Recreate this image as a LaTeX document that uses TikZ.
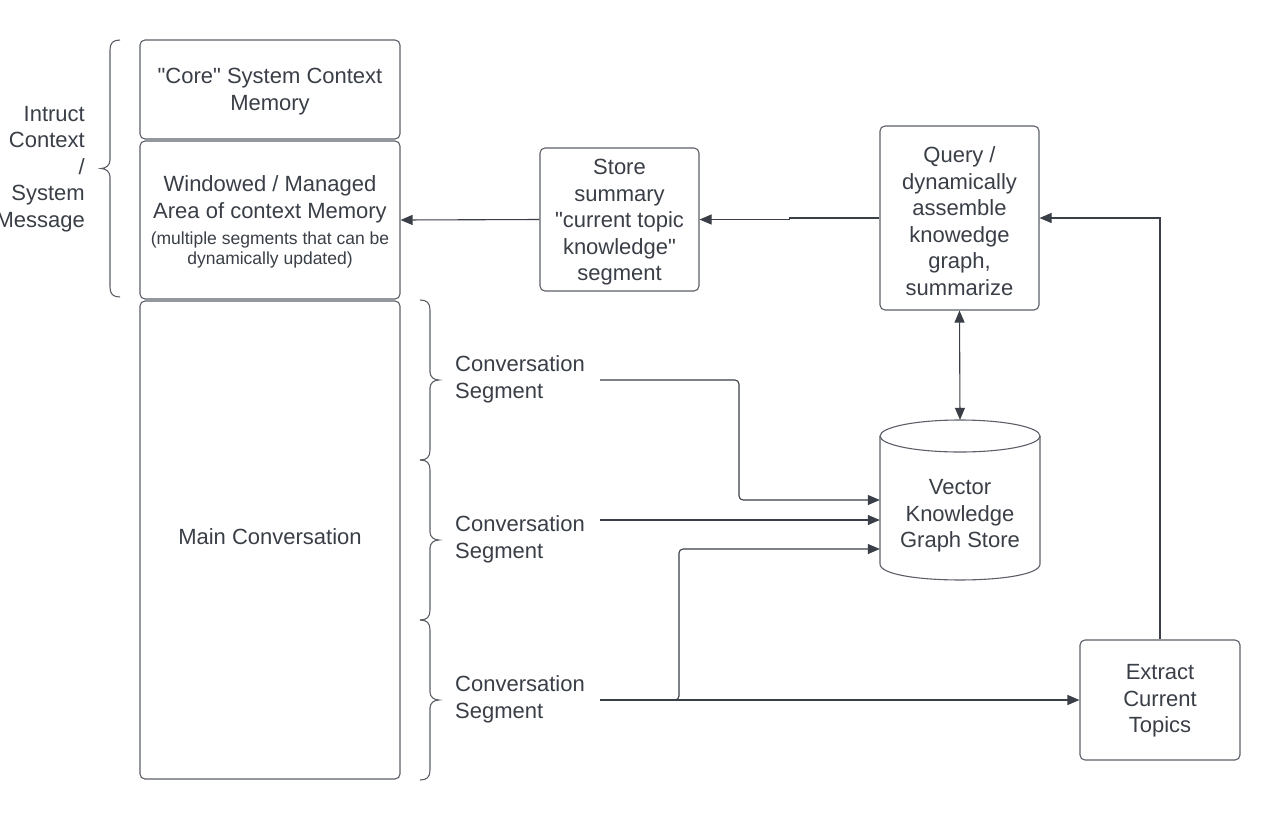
\documentclass[tikz,border=0pt]{standalone}
\usepackage{fontspec}
\setmainfont{Liberation Sans}
\usetikzlibrary{arrows.meta}
\definecolor{ink}{HTML}{3A3F47}
\definecolor{edge}{HTML}{5C6066}
\newcommand{\dq}{\textquotedbl}
\begin{document}
\begin{tikzpicture}[x=1pt,y=-1pt,
  every node/.style={font=\fontsize{22}{26.5}\selectfont, text=ink, align=center, inner sep=0pt},
  box/.style={draw=edge, line width=1.1pt, rounded corners=5pt},
  shp/.style={draw=edge, line width=1.1pt},
  ln/.style={draw=ink, line width=1.1pt},
  arr/.style={ln, -{Triangle[length=12pt,width=10pt]}},
  darr/.style={ln, {Triangle[length=12pt,width=10pt]}-{Triangle[length=12pt,width=10pt]}},
]
\useasboundingbox (0,0) rectangle (1280,820);
\fill[white] (0,0) rectangle (1280,820);

% left column
\node[box, minimum width=260, minimum height=99,
  label={[yshift=-2pt]center:{\dq Core\dq{} System Context\\Memory}}] (core) at (270,89.5) {};
\node[box, minimum width=260, minimum height=158,
  label={[yshift=-2pt]center:{Windowed / Managed\\Area of context Memory\\{\fontsize{17.5}{20}\selectfont (multiple segments that can be}\\[-6.5pt]{\fontsize{17.5}{20}\selectfont dynamically updated)}}}] (win) at (270,220) {};
\node[box, minimum width=260, minimum height=478,
  label={[yshift=3pt]center:{Main Conversation}}] (main) at (270,540) {};

\node[anchor=east, align=right] (ictx) at (85,169) {Intruct\\Context\\/\\System\\Message};

% left brace
\draw[shp] (120,40) .. controls (113,40) and (110,43) .. (110,50) -- (110,160)
  .. controls (110,165) and (106,168.5) .. (101,168.5)
  .. controls (106,168.5) and (110,172) .. (110,177) -- (110,287)
  .. controls (110,294) and (113,297) .. (120,297);

% right braces
\foreach \t/\m/\b in {300/380/460, 460/540/620, 620/700/780}{
  \draw[shp] (420,\t) .. controls (427,\t) and (430,\t+3) .. (430,\t+10) -- (430,\m-8)
    .. controls (430,\m-3) and (434,\m) .. (439,\m)
    .. controls (434,\m) and (430,\m+3) .. (430,\m+8) -- (430,\b-10)
    .. controls (430,\b-3) and (427,\b) .. (420,\b);
}

\node[anchor=west, align=left] (cs1) at (455,379.5) {Conversation\\Segment};
\node[anchor=west, align=left] (cs2) at (455,539.5) {Conversation\\Segment};
\node[anchor=west, align=left] (cs3) at (455,699.5) {Conversation\\Segment};
\coordinate (o1) at (600,380);
\coordinate (o2) at (600,520);
\coordinate (o3) at (600,700);

% middle / right
\node[box, minimum width=159, minimum height=143,
  label={[yshift=-3pt]center:{Store\\summary\\\dq current topic\\knowledge\dq\\segment}}] (store) at (619.5,219.5) {};
\node[box, minimum width=159, minimum height=184,
  label={[yshift=-3pt]center:{Query /\\dynamically\\assemble\\knowedge\\graph,\\summarize}}] (query) at (959.5,218) {};

% cylinder
\node[minimum width=160, minimum height=160] (kg) at (960,500) {};
\draw[shp] (880,436) -- (880,564) .. controls (880,585.3) and (1040,585.3) .. (1040,564) -- (1040,436);
\draw[shp] (960,436) ellipse [x radius=80, y radius=16];
\node (kgt) at (960,516) {Vector\\Knowledge\\Graph Store};

\node[box, minimum width=160, minimum height=120,
  label={[yshift=-1pt]center:{Extract\\Current\\Topics}}] (extract) at (1160,700) {};

% connectors
\draw[arr] (store.west) -- (win.east);
\draw[arr] (query.west) -- ++(-90,0) |- (store.east);
\draw[darr] (query.south) -- (kg.north);
\draw[arr, rounded corners=4pt] (o1) -- (739,380) -- (739,500) -- (kg.west);
\draw[arr] (o2) -- ([yshift=-20pt]kg.west);
\draw[arr, rounded corners=4pt] (o3) -- (679,700) -- (679,549) -- ([yshift=-49pt]kg.west);
\draw[arr] (o3) -- (extract.west);
\draw[arr] (extract.north) |- (query.east);
\end{tikzpicture}
\end{document}
